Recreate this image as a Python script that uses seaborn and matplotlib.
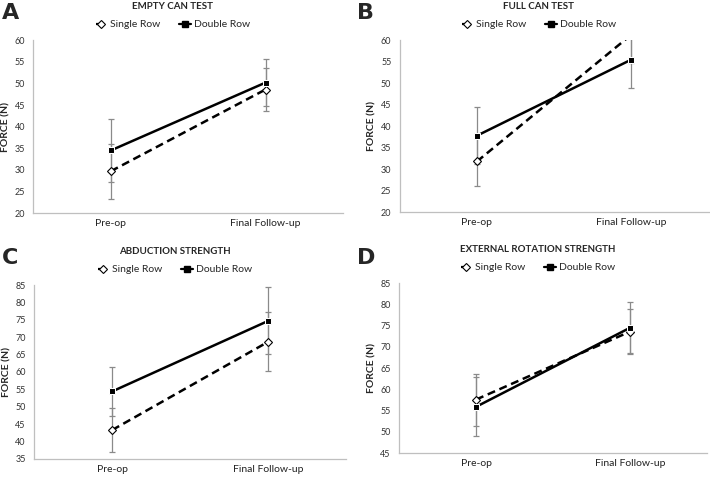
import matplotlib
matplotlib.use("Agg")
import matplotlib.pyplot as plt
import matplotlib.transforms as mtransforms
from matplotlib.lines import Line2D
import seaborn as sns
import pandas as pd

# ── Data (mean ± SD) ────────────────────────────────────────────────────────
timepoints = ["Pre-op", "Final Follow-up"]
groups = ["Single Row", "Double Row"]
panel_letters = ["A", "B", "C", "D"]
panel_titles = ["EMPTY CAN TEST", "FULL CAN TEST",
                "ABDUCTION STRENGTH", "EXTERNAL ROTATION STRENGTH"]
y_limits = [(20, 60), (20, 60), (35, 85), (45, 85)]

single_mean = [[29.7, 48.6], [31.8, 61.3], [43.3, 68.7], [57.6, 73.6]]
single_sd = [[6.4, 4.9], [5.8, 6.5], [6.2, 8.5], [6.1, 5.2]]
double_mean = [[34.5, 50.2], [37.8, 55.5], [54.4, 74.7], [55.9, 74.5]]
double_sd = [[7.2, 5.4], [6.7, 6.5], [7.0, 9.6], [6.9, 6.0]]

# axes rectangles in figure fractions (left, bottom, width, height)
rects = [(0.047, 0.555, 0.436, 0.361),
         (0.563, 0.557, 0.435, 0.359),
         (0.048, 0.042, 0.440, 0.363),
         (0.562, 0.054, 0.434, 0.355)]

sns.set_theme(style="white")
plt.rcParams["font.family"] = ["Lato", "DejaVu Sans"]

fig = plt.figure(figsize=(7.1, 4.79), dpi=100)
GREY = "#bfbfbf"
ERR = "#8a8a8a"
DASH = (3.2, 1.9)

for i in range(4):
    ax = fig.add_axes(rects[i])
    df = pd.DataFrame({
        "pos": [0, 1, 0, 1],
        "force": single_mean[i] + double_mean[i],
        "sd": single_sd[i] + double_sd[i],
        "group": [groups[0]] * 2 + [groups[1]] * 2,
    })

    # error bars first so the lines sit on top
    for g in groups:
        sub = df[df["group"] == g]
        ax.errorbar(sub["pos"], sub["force"], yerr=sub["sd"], fmt="none",
                    ecolor=ERR, elinewidth=0.9, capsize=2, capthick=0.9,
                    zorder=1)

    sns.lineplot(data=df, x="pos", y="force", hue="group", style="group",
                 hue_order=groups, style_order=groups,
                 palette=["black", "black"], dashes=[DASH, ""],
                 markers=["D", "s"], markersize=5, linewidth=1.8,
                 legend=False, ax=ax, zorder=3)
    # hollow diamond for single row
    for ln in ax.get_lines():
        if ln.get_marker() == "D":
            ln.set_markerfacecolor("white")
            ln.set_markeredgecolor("black")
            ln.set_markersize(4.5)
            ln.set_markeredgewidth(0.8)

    ax.set_xlim(-0.5, 1.5)
    ax.set_ylim(*y_limits[i])
    lo, hi = y_limits[i]
    ax.set_yticks(range(lo, hi + 1, 5))
    ax.set_xticks([0, 1])
    ax.set_xticklabels(timepoints, fontsize=7.5, color="#222222")
    ax.set_xticks([-0.5, 0.5, 1.5], minor=True)
    ax.tick_params(axis="x", which="major", length=0, pad=4.5)
    ax.tick_params(axis="x", which="minor", length=3, color=GREY, width=0.8,
                   direction="out")
    ax.tick_params(axis="y", length=3, color=GREY, width=0.8, direction="out",
                   labelsize=6.5, labelcolor="#333333", pad=3)
    ax.set_xlabel("")
    ax.set_ylabel("FORCE (N)", fontsize=7.5, fontweight="bold", labelpad=3)
    for s in ["top", "right"]:
        ax.spines[s].set_visible(False)
    for s in ["left", "bottom"]:
        ax.spines[s].set_color(GREY)
        ax.spines[s].set_linewidth(0.9)

    # title and legend above the plot area
    tr_title = mtransforms.offset_copy(ax.transAxes, fig=fig, y=34, units="dots")
    ax.text(0.45, 1.0, panel_titles[i], transform=tr_title, ha="center",
            va="center", fontsize=7, fontweight="bold")
    handles = [
        Line2D([], [], color="black", linestyle=(0, DASH), linewidth=1.6,
               marker="D", markersize=4, markerfacecolor="white",
               markeredgecolor="black", markeredgewidth=0.8),
        Line2D([], [], color="black", linestyle="-", linewidth=1.6,
               marker="s", markersize=4.5),
    ]
    ax.legend(handles, groups, loc="center", ncol=2, frameon=False,
              bbox_to_anchor=(0.45, 1.0 + 15.5 / (rects[i][3] * 479)),
              fontsize=7.5, handlelength=1.1, handletextpad=0.3,
              columnspacing=1.8, borderaxespad=0)

    # panel letter
    px = 0.003 if i % 2 == 0 else 0.503
    py = 1 - 13 / 479 if i < 2 else 1 - 258 / 479
    fig.text(px, py, panel_letters[i], fontsize=16, fontweight="bold",
             family=["DejaVu Sans"], va="center", ha="left")

fig.savefig("out.png", dpi=100)
